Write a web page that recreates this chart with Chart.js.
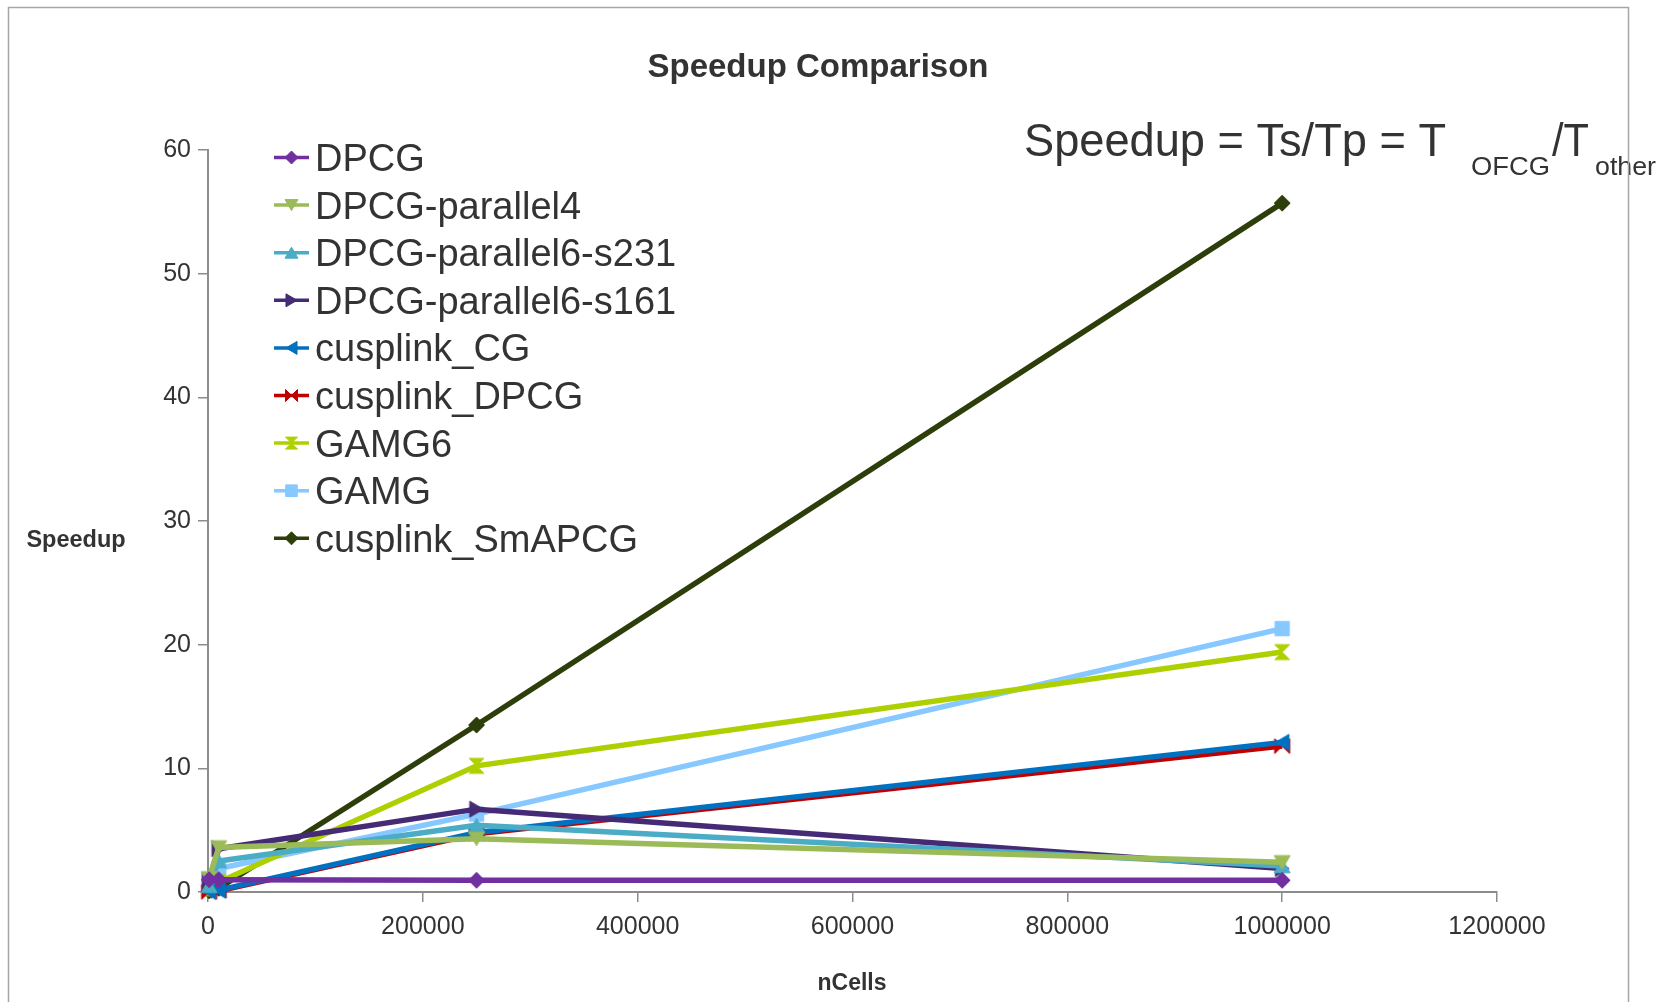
<!DOCTYPE html>
<html>
<head>
<meta charset="utf-8">
<script src="https://cdn.jsdelivr.net/npm/chart.js@4.4.1/dist/chart.umd.min.js"></script>
<style>
  html, body { margin: 0; padding: 0; background: #ffffff; }
  #wrap { width: 1667px; height: 1002px; }
</style>
</head>
<body>
<div id="wrap"><canvas id="speedup" width="1667" height="1002"></canvas></div>
<script>
// Problem sizes (number of cells)
const nCells = [1000, 10000, 250000, 1000000];

// Speedup of each solver relative to the serial OFCG run
const dpcg              = [1.0, 1.0, 0.95, 0.95];
const dpcgParallel4     = [1.1, 3.6, 4.3, 2.4];
const dpcgParallel6s231 = [0.5, 2.5, 5.4, 2.1];
const dpcgParallel6s161 = [0.9, 3.5, 6.7, 1.9];
const cusplinkCG        = [0.05, 0.15, 4.8, 12.1];
const cusplinkDPCG      = [0.0, 0.1, 4.7, 11.8];
const gamg6             = [0.3, 0.8, 10.2, 19.4];
const gamg              = [1.0, 1.9, 6.3, 21.3];
const cusplinkSmAPCG    = [0.1, 0.3, 13.5, 55.7];

const seriesNames = ['DPCG', 'DPCG-parallel4', 'DPCG-parallel6-s231', 'DPCG-parallel6-s161',
  'cusplink_CG', 'cusplink_DPCG', 'GAMG6', 'GAMG', 'cusplink_SmAPCG'];
const seriesValues = [dpcg, dpcgParallel4, dpcgParallel6s231, dpcgParallel6s161,
  cusplinkCG, cusplinkDPCG, gamg6, gamg, cusplinkSmAPCG];

// Axis tick labels
const xTicks = [0, 200000, 400000, 600000, 800000, 1000000, 1200000];
const yTicks = [0, 10, 20, 30, 40, 50, 60];

// Series styling
const seriesColors = ['#7030A0', '#9BBB59', '#4BACC6', '#452A75', '#0070C0',
  '#C00000', '#AFD000', '#86C8FF', '#2D3E0A'];
const seriesShapes = ['diamond', 'triDown', 'triUp', 'triRight', 'triLeft',
  'bowtie', 'hourglass', 'square', 'diamond'];

const FONT = '"Liberation Sans", Arial, sans-serif';
const TEXT = '#333333';

function shapePath(ctx, shape, r) {
  const k = 0.85;
  ctx.beginPath();
  switch (shape) {
    case 'diamond':
      ctx.moveTo(0, -r); ctx.lineTo(r, 0); ctx.lineTo(0, r); ctx.lineTo(-r, 0); ctx.closePath(); break;
    case 'square':
      ctx.rect(-r, -r, 2 * r, 2 * r); break;
    case 'triDown':
      ctx.moveTo(-r, -r * k); ctx.lineTo(r, -r * k); ctx.lineTo(0, r * k); ctx.closePath(); break;
    case 'triUp':
      ctx.moveTo(-r, r * k); ctx.lineTo(r, r * k); ctx.lineTo(0, -r * k); ctx.closePath(); break;
    case 'triRight':
      ctx.moveTo(-r * k, -r); ctx.lineTo(-r * k, r); ctx.lineTo(r * k, 0); ctx.closePath(); break;
    case 'triLeft':
      ctx.moveTo(r * k, -r); ctx.lineTo(r * k, r); ctx.lineTo(-r * k, 0); ctx.closePath(); break;
    case 'bowtie':
      ctx.moveTo(-r, -r); ctx.lineTo(0, 0); ctx.lineTo(-r, r); ctx.closePath();
      ctx.moveTo(r, -r); ctx.lineTo(0, 0); ctx.lineTo(r, r); ctx.closePath(); break;
    case 'hourglass':
      ctx.moveTo(-r, -r); ctx.lineTo(r, -r); ctx.lineTo(0, 0); ctx.closePath();
      ctx.moveTo(-r, r); ctx.lineTo(r, r); ctx.lineTo(0, 0); ctx.closePath(); break;
  }
}

function drawShape(ctx, shape, x, y, r, color) {
  ctx.save();
  ctx.translate(x, y);
  shapePath(ctx, shape, r);
  ctx.fillStyle = color;
  ctx.strokeStyle = color;
  ctx.lineWidth = 1;
  ctx.fill();
  ctx.stroke();
  ctx.restore();
}

function makeMarker(shape, color, r) {
  const size = Math.ceil(2 * r + 4);
  const c = document.createElement('canvas');
  c.width = size; c.height = size;
  drawShape(c.getContext('2d'), shape, size / 2, size / 2, r, color);
  return c;
}

const markerRadius = { diamond: 8, square: 7.2, triDown: 8, triUp: 8, triRight: 8, triLeft: 8, bowtie: 7.5, hourglass: 7.5 };
const legendRadius = { diamond: 6.5, square: 5.8, triDown: 6.5, triUp: 6.5, triRight: 6.5, triLeft: 6.5, bowtie: 6, hourglass: 6 };

const datasets = seriesNames.map((name, i) => ({
  label: name,
  data: nCells.map((x, j) => ({ x: x, y: seriesValues[i][j] })),
  borderColor: seriesColors[i],
  backgroundColor: seriesColors[i],
  borderWidth: 5.5,
  pointStyle: makeMarker(seriesShapes[i], seriesColors[i], markerRadius[seriesShapes[i]]),
  pointRadius: 8,
  tension: 0,
  clip: false
}));

// Draws a string squeezed/stretched horizontally to a given width
function fitText(ctx, text, x, baseline, font, width) {
  ctx.save();
  ctx.font = font;
  const w = ctx.measureText(text).width;
  ctx.translate(x, baseline);
  ctx.scale(width / w, 1);
  ctx.textAlign = 'left';
  ctx.textBaseline = 'alphabetic';
  ctx.fillText(text, 0, 0);
  ctx.restore();
}

const decorations = {
  id: 'decorations',
  afterDraw(chart) {
    const ctx = chart.ctx;
    ctx.save();
    ctx.fillStyle = TEXT;

    // Chart title
    ctx.font = 'bold 33px ' + FONT;
    ctx.textAlign = 'center';
    ctx.textBaseline = 'alphabetic';
    ctx.fillText('Speedup Comparison', 818, 77);

    // Axis titles
    ctx.font = 'bold 23.5px ' + FONT;
    ctx.fillText('Speedup', 76, 547);
    ctx.font = 'bold 23px ' + FONT;
    ctx.fillText('nCells', 852, 990);

    // Speedup formula with subscripts
    fitText(ctx, 'Speedup = Ts/Tp = T', 1024, 156, '47px ' + FONT, 422);
    fitText(ctx, 'OFCG', 1471, 175, '26px ' + FONT, 79);
    fitText(ctx, '/T', 1552, 156, '47px ' + FONT, 37);
    fitText(ctx, 'other', 1595, 175, '26px ' + FONT, 61);

    // Legend
    const legendTop = 157.5, rowStep = 47.6;
    chart.data.datasets.forEach((ds, i) => {
      const y = legendTop + i * rowStep;
      ctx.strokeStyle = seriesColors[i];
      ctx.lineWidth = 3.5;
      ctx.beginPath();
      ctx.moveTo(274, y); ctx.lineTo(309, y);
      ctx.stroke();
      drawShape(ctx, seriesShapes[i], 291.5, y, legendRadius[seriesShapes[i]], seriesColors[i]);
      ctx.fillStyle = TEXT;
      ctx.font = '38px ' + FONT;
      ctx.textAlign = 'left';
      ctx.textBaseline = 'alphabetic';
      ctx.fillText(ds.label, 315, y + 13.5);
    });

    // Outer frame
    ctx.strokeStyle = '#a6a6a6';
    ctx.lineWidth = 1.5;
    ctx.beginPath();
    ctx.moveTo(8.5, 1002); ctx.lineTo(8.5, 7.5); ctx.lineTo(1628.5, 7.5); ctx.lineTo(1628.5, 1002);
    ctx.stroke();
    ctx.restore();
  }
};

new Chart(document.getElementById('speedup'), {
  type: 'line',
  data: { datasets: datasets },
  plugins: [decorations],
  options: {
    responsive: false,
    devicePixelRatio: 1,
    animation: false,
    events: [],
    layout: { padding: { left: 0, top: 150, right: 170, bottom: 0 } },
    plugins: { legend: { display: false }, title: { display: false }, tooltip: { enabled: false } },
    scales: {
      x: {
        type: 'linear',
        min: 0,
        max: 1200000,
        afterFit: s => { s.height = 110; },
        afterBuildTicks: s => { s.ticks = xTicks.map(v => ({ value: v })); },
        border: { display: true, color: '#8c8c8c', width: 2 },
        grid: { drawOnChartArea: false, drawTicks: true, tickLength: 10, color: '#8c8c8c', lineWidth: 1.5 },
        ticks: { color: TEXT, padding: 10, font: { family: FONT, size: 25 }, maxRotation: 0, autoSkip: false,
                 callback: v => String(v) }
      },
      y: {
        type: 'linear',
        min: 0,
        max: 60,
        afterFit: s => { s.width = 208; },
        afterBuildTicks: s => { s.ticks = yTicks.map(v => ({ value: v })); },
        border: { display: true, color: '#8c8c8c', width: 2 },
        grid: { drawOnChartArea: false, drawTicks: true, tickLength: 10, color: '#8c8c8c', lineWidth: 1.5 },
        ticks: { color: TEXT, padding: 7, font: { family: FONT, size: 25 }, callback: v => String(v) }
      }
    }
  }
});
</script>
</body>
</html>
